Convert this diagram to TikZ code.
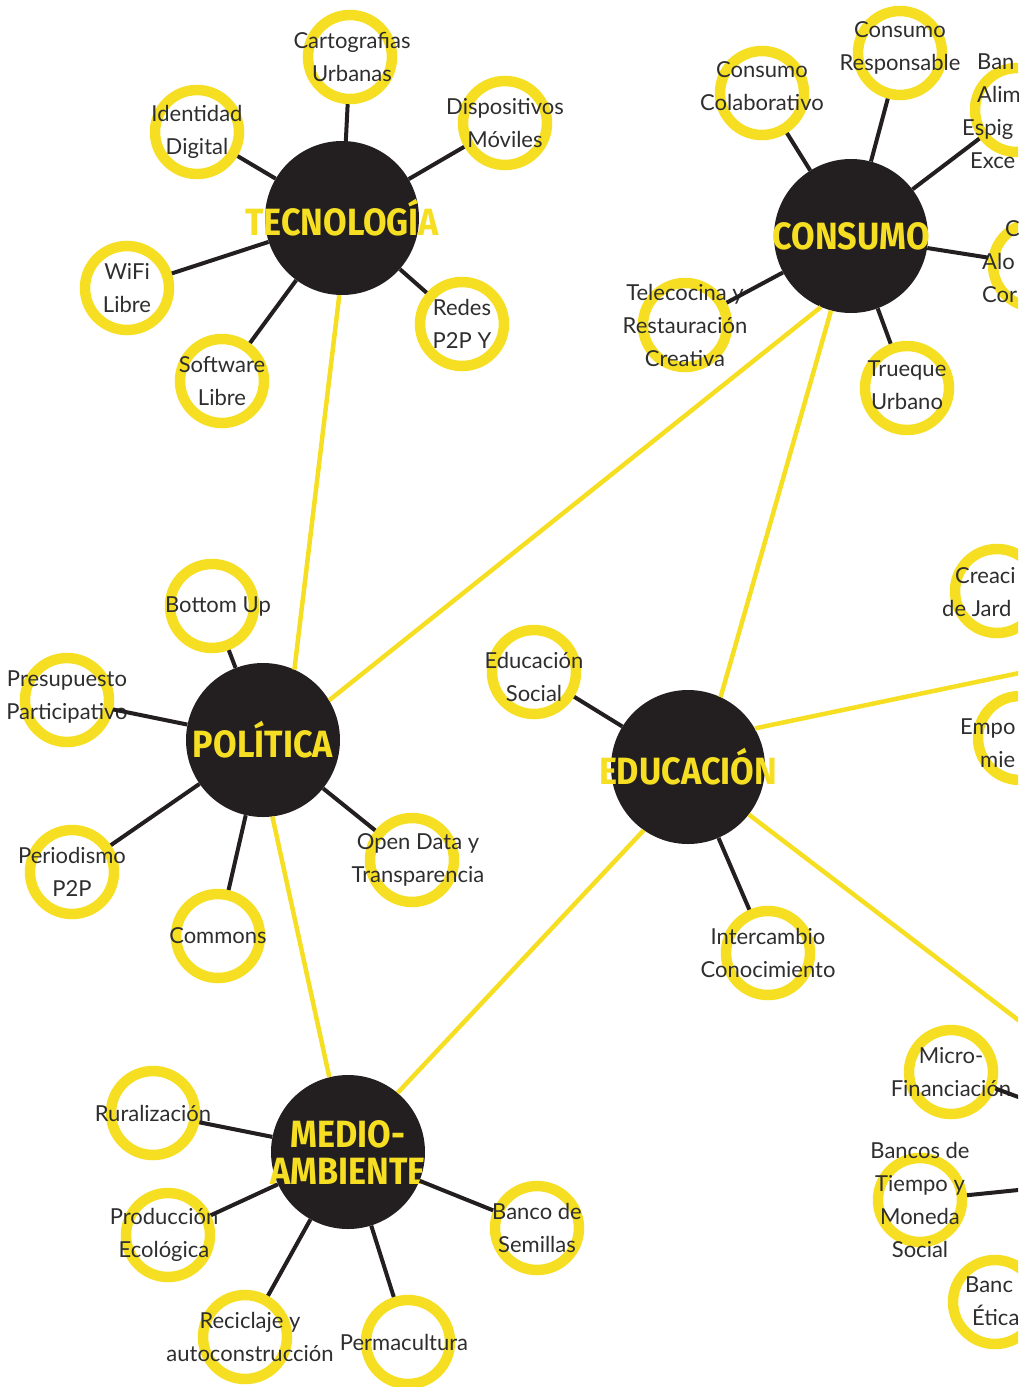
\documentclass[tikz,border=0pt]{standalone}
\usepackage{fontspec}
\setmainfont{Lato}
\newfontfamily\hubfont[FakeStretch=0.9]{Fira Sans}
\definecolor{amarillo}{HTML}{F6DF22}
\definecolor{negro}{HTML}{231F20}
\definecolor{texto}{HTML}{2E2E2E}

\begin{document}
\begin{tikzpicture}[x=1pt,y=-1pt,
    hub/.style={circle,fill=negro,minimum size=154pt,inner sep=0pt},
    hubtext/.style={text=amarillo,font=\hubfont\bfseries\fontsize{38}{37}\selectfont,align=center},
    ring/.style={circle,draw=amarillo,line width=10.5pt,minimum size=84pt,inner sep=0pt},
    lbl/.style={text=texto,font=\fontsize{22}{33}\selectfont,align=center,inner sep=0pt},
    cut/.style={lbl,anchor=west,align=left},
    leg/.style={draw=negro,line width=4pt},
    link/.style={draw=amarillo,line width=4.5pt}]

    \useasboundingbox (0,0) rectangle (1018,1387);
    \clip (0,0) rectangle (1018,1387);

    % ejes tematicos
    \node[hub,label={[hubtext]center:TECNOLOGÍA}]         (tec) at (342,218)  {};
    \node[hub,label={[hubtext]center:CONSUMO}]            (con) at (851,236)  {};
    \node[hub,label={[hubtext]center:POLÍTICA}]           (pol) at (263,740)  {};
    \node[hub,label={[hubtext]center:EDUCACIÓN}]          (edu) at (688,767)  {};
    \node[hub,label={[hubtext]center:MEDIO-\\AMBIENTE}]   (med) at (348,1152) {};
    \coordinate (eco)  at (1215,1170);
    \coordinate (otro) at (1215,632);

    % tecnologia
    \node[ring,label={[lbl,xshift=2pt]center:Cartografias\\Urbanas}] (cart) at (350,57)  {};
    \node[ring,label={[lbl]center:Identidad\\Digital}]               (iden) at (197,132) {};
    \node[ring,label={[lbl]center:Dispositivos\\Móviles}]            (disp) at (505,123) {};
    \node[ring,label={[lbl]center:WiFi\\Libre}]                      (wifi) at (127,288) {};
    \node[ring,label={[lbl]center:Software\\Libre}]                  (soft) at (222,381) {};
    \node[ring,label={[lbl]center:Redes\\P2P Y}]                     (redes) at (462,324) {};

    % consumo
    \node[ring,label={[lbl,yshift=7pt]center:Consumo\\Colaborativo}] (colab) at (762,93)  {};
    \node[ring,label={[lbl,yshift=5pt]center:Consumo\\Responsable}]  (resp)  at (900,53)  {};
    \node[ring]                                                      (ban)   at (1017,110) {};
    \node[ring]                                                      (alo)   at (1035,265) {};
    \node[ring,label={[lbl]center:Telecocina y\\Restauración\\Creativa}] (tele) at (685,325) {};
    \node[ring,label={[lbl,yshift=3pt]center:Trueque\\Urbano}]       (trueq) at (907,388) {};
    \node[cut] (banT) at (962,111) {\hspace*{15pt}Ban\\\hspace*{15pt}Alim\\Espig\\\hspace*{8pt}Exce};
    \node[cut] (aloT) at (982,262) {\hspace*{23pt}C\\Alo\\Cor};

    % politica
    \node[ring,label={[lbl,xshift=6pt]center:Bottom Up}]               (bott) at (212,606) {};
    \node[ring,label={[lbl,yshift=3pt]center:Presupuesto\\Participativo}] (pres) at (67,700) {};
    \node[ring,label={[lbl]center:Periodismo\\P2P}]                   (peri) at (72,872)  {};
    \node[ring,label={[lbl]center:Commons}]                           (comm) at (218,936) {};
    \node[ring,label={[lbl,xshift=6pt]center:Open Data y\\Transparencia}] (open) at (412,860) {};

    % educacion
    \node[ring,label={[lbl,yshift=-5pt]center:Educación\\Social}]     (edus)  at (534,672) {};
    \node[ring,label={[lbl]center:Intercambio\\Conocimiento}]         (inter) at (768,953) {};
    \node[ring]                                                       (jard)  at (997,591) {};
    \node[ring]                                                       (empo)  at (1020,738) {};
    \node[cut] (jardT) at (942,592) {\hspace*{13pt}Creaci\\de Jard};
    \node[cut] (empoT) at (960,743) {Empo\\\hspace*{20pt}mie};

    % medio ambiente
    \node[ring,label={[lbl]center:Ruralización}]                      (rural) at (153,1113) {};
    \node[ring,label={[lbl,xshift=-4pt]center:Producción\\Ecológica}] (prod)  at (168,1235) {};
    \node[ring,label={[lbl,xshift=5pt]center:Reciclaje y\\autoconstrucción}] (recic) at (245,1337) {};
    \node[ring,label={[lbl,xshift=-4pt]center:Permacultura}]          (perma) at (408,1342) {};
    \node[ring,label={[lbl]center:Banco de\\Semillas}]                (semi)  at (537,1228) {};

    % finanzas (fuera de cuadro)
    \node[ring,label={[lbl]center:Micro-\\Financiación}]              (micro)   at (951,1072) {};
    \node[ring,label={[lbl]center:Bancos de\\Tiempo y\\Moneda\\Social}] (btiempo) at (920,1200) {};
    \node[ring]                                                       (etica)   at (995,1302) {};
    \node[cut] (eticaT) at (965,1301) {Banc\\\hspace*{7pt}Ética};

    % enlaces entre ejes
    \path[link] (tec.268) edge (pol.66)
                (con.247) edge (pol.31)
                (con.255) edge (edu.65)
                (pol.277) edge (med.104)
                (edu.235) edge (med.50)
                (edu.322) edge (eco)
                (edu.30)  edge (otro);

    % ramas
    \path[leg] (tec) edge (cart) edge (iden) edge (disp)
                     edge (wifi) edge (soft) edge (redes)
               (con) edge (colab) edge (resp) edge (ban)
                     edge (alo) edge (tele) edge (trueq)
               (pol) edge (bott) edge (pres) edge (peri)
                     edge (comm) edge (open)
               (edu) edge (edus) edge (inter)
               (med) edge (rural) edge (prod) edge (recic)
                     edge (perma) edge (semi)
               (micro) edge (eco)
               (btiempo) edge (eco);

\end{tikzpicture}
\end{document}
